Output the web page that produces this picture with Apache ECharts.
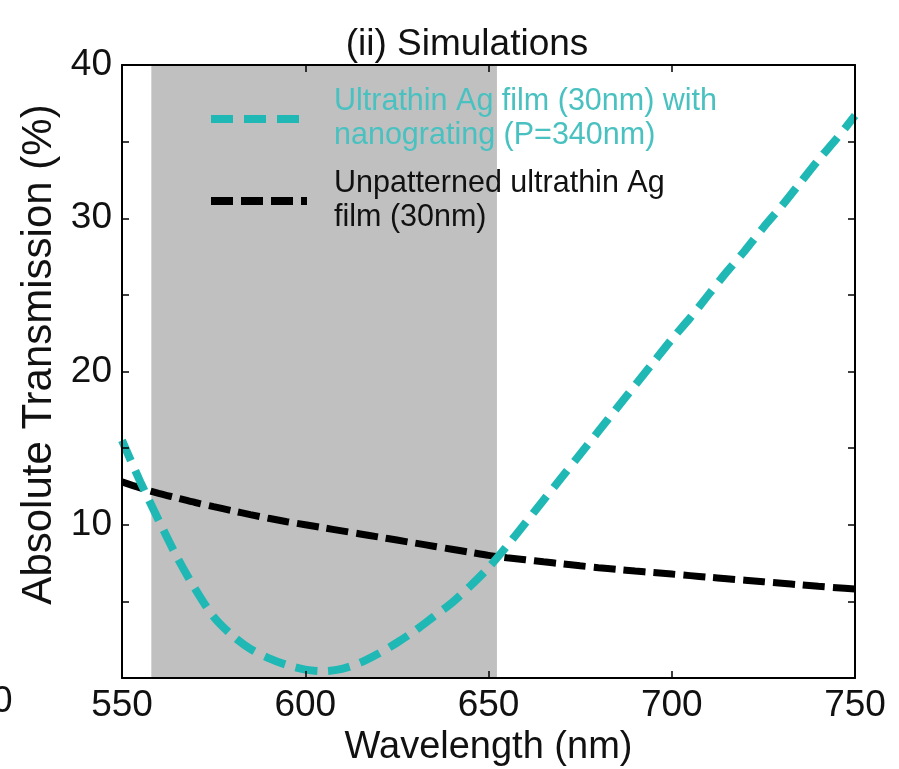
<!DOCTYPE html>
<html>
<head>
    <meta charset="utf-8">
    <script src="https://cdn.jsdelivr.net/npm/echarts@6/dist/echarts.min.js"></script>
    <title>Simulations</title>
    <style>
        html, body { margin: 0; padding: 0; background: #fff; }
        #main { width: 899px; height: 769px; }
    </style>
</head>
<body>
<div id="main"></div>
<script type="text/javascript">
    // wavelength grid (nm)
    var wavelengths = [550, 555, 560, 565, 570, 575, 580, 585, 590, 595, 600, 605, 610, 615, 620, 625, 630, 635, 640, 645,
        650, 655, 660, 665, 670, 675, 680, 685, 690, 695, 700, 705, 710, 715, 720, 725, 730, 735, 740, 745, 750];
    // Ag film with nanograting (P=340nm)
    var gratingValues = [15.5, 12.8, 10.3, 7.9, 5.8, 4.0, 2.8, 1.9, 1.3, 0.85, 0.55, 0.45, 0.6, 1.0, 1.6, 2.3, 3.1, 4.0, 4.9, 6.0,
        7.2, 8.6, 10.1, 11.6, 13.1, 14.6, 16.1, 17.6, 19.1, 20.6, 22.1, 23.5, 25.0, 26.5, 27.9, 29.4, 30.8, 32.3, 33.8, 35.2, 36.7];
    // unpatterned Ag film
    var flatValues = [12.8, 12.4, 12.05, 11.75, 11.45, 11.18, 10.92, 10.66, 10.42, 10.2, 10.0, 9.8, 9.6, 9.4, 9.2, 9.0, 8.8, 8.6, 8.4, 8.2,
        8.0, 7.85, 7.72, 7.58, 7.45, 7.32, 7.2, 7.09, 6.98, 6.88, 6.78, 6.68, 6.58, 6.48, 6.38, 6.28, 6.18, 6.08, 5.98, 5.89, 5.8];
    var seriesNames = ['Ultrathin Ag film (30nm) with\nnanograting (P=340nm)', 'Unpatterned ultrathin Ag\nfilm (30nm)'];
    var shadedBand = [558, 652.3];
    var xTicks = [550, 750, 50];
    var yTicks = [0, 40, 5];

    var cyan = '#20b8b4';
    var font = 'Liberation Sans, Arial, sans-serif';

    function pairs(xs, ys) {
        var out = [];
        for (var i = 0; i < xs.length; i++) out.push([xs[i], ys[i]]);
        return out;
    }

    var myChart = echarts.init(document.getElementById('main'));

    var boxAxis = {
        axisLine: { show: true, onZero: false, lineStyle: { color: '#000', width: 2 } },
        axisTick: { show: true, inside: true, length: 7, lineStyle: { color: '#000', width: 1.5 } },
        splitLine: { show: false },
        z: 5
    };

    var option = {
        backgroundColor: '#fff',
        animation: false,
        title: {
            text: '(ii) Simulations',
            left: 462,
            top: 21,
            textAlign: 'center',
            textStyle: { fontSize: 37, fontWeight: 'normal', color: '#111', fontFamily: font }
        },
        grid: { left: 122, right: 44, top: 65, bottom: 91, outerBoundsMode: 'none' },
        legend: {
            orient: 'vertical',
            left: 202,
            top: 80,
            itemWidth: 96,
            itemHeight: 14,
            itemGap: 14,
            textStyle: { fontSize: 30.5, lineHeight: 34, fontFamily: font, padding: [0, 0, 0, 22] },
            data: [
                { name: seriesNames[0], textStyle: { color: '#48c1c0' }, lineStyle: { width: 8 }, itemStyle: { opacity: 0 } },
                { name: seriesNames[1], textStyle: { color: '#111' }, lineStyle: { width: 8 }, itemStyle: { opacity: 0 } }
            ]
        },
        xAxis: [
            Object.assign({}, boxAxis, {
                type: 'value', position: 'bottom',
                min: xTicks[0], max: xTicks[1], interval: xTicks[2],
                name: 'Wavelength (nm)', nameLocation: 'middle', nameGap: 42,
                nameTextStyle: { fontSize: 38, color: '#111', fontFamily: font },
                axisLabel: { fontSize: 37, color: '#111', margin: 9, fontFamily: font }
            }),
            Object.assign({}, boxAxis, {
                type: 'value', position: 'top',
                min: xTicks[0], max: xTicks[1], interval: xTicks[2],
                axisLabel: { show: false }
            })
        ],
        yAxis: [
            Object.assign({}, boxAxis, {
                type: 'value', position: 'left',
                min: yTicks[0], max: yTicks[1], interval: yTicks[2],
                name: 'Absolute Transmission (%)', nameLocation: 'middle', nameGap: 62,
                nameTextStyle: { fontSize: 42, color: '#111', fontFamily: font, padding: [0, 0, 0, 34] },
                axisLabel: {
                    fontSize: 37, color: '#111', margin: 10, fontFamily: font,
                    formatter: function (v) { return (v % 10 === 0 && v > 0) ? String(v) : ''; }
                }
            }),
            Object.assign({}, boxAxis, {
                type: 'value', position: 'right',
                min: yTicks[0], max: yTicks[1], interval: yTicks[2],
                axisLabel: { show: false }
            })
        ],
        graphic: [{
            // clipped tick label from the neighbouring panel
            type: 'text', left: -8, top: 683,
            style: { text: '0', fontSize: 37, fill: '#111', fontFamily: font }
        }],
        series: [
            {
                name: seriesNames[0],
                type: 'line',
                data: pairs(wavelengths, gratingValues),
                smooth: 0.3,
                symbol: 'none',
                lineStyle: { color: cyan, width: 8, type: [22, 11] },
                itemStyle: { color: cyan },
                z: 3,
                markArea: {
                    silent: true,
                    itemStyle: { color: '#c0c0c0', opacity: 1 },
                    data: [[{ xAxis: shadedBand[0], yAxis: yTicks[0] }, { xAxis: shadedBand[1], yAxis: yTicks[1] }]]
                }
            },
            {
                name: seriesNames[1],
                type: 'line',
                data: pairs(wavelengths, flatValues),
                smooth: 0.3,
                symbol: 'none',
                lineStyle: { color: '#000', width: 7, type: [22, 8] },
                itemStyle: { color: '#000' },
                z: 2
            }
        ]
    };
    myChart.setOption(option);
</script>
</body>
</html>
